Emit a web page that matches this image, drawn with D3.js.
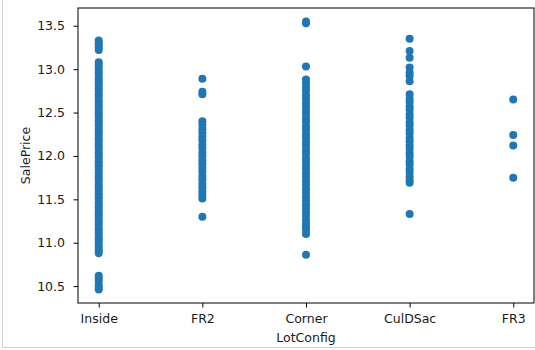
<!DOCTYPE html>
<html>
<head>
<meta charset="utf-8">
<script src="https://cdn.jsdelivr.net/npm/d3@7"></script>
<style>
  body { margin: 0; background: #fff; }
  svg { display: block; }
  text { font-family: "DejaVu Sans", sans-serif; fill: #1a1a1a; }
</style>
</head>
<body>
<div id="chart"></div>
<script>
const categories = ["Inside", "FR2", "Corner", "CulDSac", "FR3"];

const insideValues = [
  13.33, 13.30, 13.28, 13.25, 13.22,
  13.08, 13.05, 13.02, 12.98, 12.95, 12.91, 12.88, 12.85, 12.82, 12.78,
  12.75, 12.71, 12.68, 12.64, 12.61, 12.58, 12.55, 12.51, 12.48, 12.45,
  12.41, 12.38, 12.35, 12.31, 12.28, 12.25, 12.21, 12.18, 12.14, 12.11,
  12.08, 12.04, 12.01, 11.98, 11.94, 11.91, 11.88, 11.84, 11.81, 11.77,
  11.74, 11.71, 11.67, 11.64, 11.61, 11.57, 11.54, 11.51, 11.47, 11.44,
  11.41, 11.37, 11.34, 11.31, 11.27, 11.24, 11.21, 11.17, 11.14, 11.11,
  11.07, 11.04, 11.01, 10.97, 10.94, 10.91, 10.88,
  10.62, 10.59, 10.56, 10.51, 10.48, 10.46
];
const fr2Values = [
  12.89, 12.74, 12.71,
  12.40, 12.36, 12.31, 12.27, 12.22, 12.18, 12.13, 12.09, 12.04, 12.00,
  11.95, 11.91, 11.86, 11.82, 11.77, 11.73, 11.68, 11.64, 11.59, 11.55, 11.51,
  11.30
];
const cornerValues = [
  13.55, 13.53, 13.03,
  12.88, 12.84, 12.79, 12.75, 12.70, 12.66, 12.61, 12.57, 12.52, 12.48,
  12.43, 12.39, 12.34, 12.30, 12.25, 12.21, 12.16, 12.12, 12.07, 12.03,
  11.98, 11.94, 11.89, 11.85, 11.80, 11.76, 11.71, 11.67, 11.62, 11.58,
  11.53, 11.49, 11.44, 11.40, 11.35, 11.31, 11.26, 11.22, 11.18, 11.15,
  11.10, 10.86
];
const culdsacValues = [
  13.35, 13.21, 13.13, 13.02, 12.96, 12.92, 12.86,
  12.71, 12.66, 12.62, 12.57, 12.53, 12.48, 12.44, 12.39, 12.35, 12.30,
  12.26, 12.21, 12.17, 12.12, 12.08, 12.03, 11.99, 11.94, 11.90, 11.85,
  11.81, 11.76, 11.72, 11.69,
  11.33
];
const fr3Values = [12.65, 12.24, 12.12, 11.75];

const yTicks = [10.5, 11.0, 11.5, 12.0, 12.5, 13.0, 13.5];

const seriesValues = [insideValues, fr2Values, cornerValues, culdsacValues, fr3Values];

const width = 535, height = 350;
const margin = { top: 8, right: 1, bottom: 47, left: 78 };
const innerW = width - margin.left - margin.right;
const innerH = height - margin.top - margin.bottom;

const svg = d3.select("#chart").append("svg")
  .attr("width", width)
  .attr("height", height);

// faint image border (left and bottom)
svg.append("line").attr("x1", 2.5).attr("x2", 2.5).attr("y1", 0).attr("y2", 347.5)
  .attr("stroke", "#d0d0d0");
svg.append("line").attr("x1", 2.5).attr("x2", width).attr("y1", 347.5).attr("y2", 347.5)
  .attr("stroke", "#d0d0d0");

const g = svg.append("g")
  .attr("transform", "translate(" + margin.left + "," + margin.top + ")");

const points = [];
categories.forEach((c, i) => {
  seriesValues[i].forEach(v => points.push({ cat: i, value: v }));
});

const allVals = points.map(d => d.value);
const yMin = d3.min(allVals), yMax = d3.max(allVals);
const yPad = (yMax - yMin) * 0.05;

const x = d3.scaleLinear()
  .domain([-0.2, categories.length - 1 + 0.2])
  .range([0, innerW]);
const y = d3.scaleLinear()
  .domain([yMin - yPad, yMax + yPad])
  .range([innerH, 0]);

// points
g.append("g")
  .selectAll("circle")
  .data(points)
  .enter()
  .append("circle")
  .attr("cx", d => x(d.cat))
  .attr("cy", d => y(d.value))
  .attr("r", 4)
  .attr("fill", "#1f77b4");

// axes
const yAxis = d3.axisLeft(y)
  .tickValues(yTicks)
  .tickFormat(d3.format(".1f"))
  .tickSize(4.5)
  .tickPadding(8.5);
const xAxis = d3.axisBottom(x)
  .tickValues(d3.range(categories.length))
  .tickFormat(i => categories[i])
  .tickSize(4.5)
  .tickPadding(7);

const gy = g.append("g").call(yAxis);
const gx = g.append("g").attr("transform", "translate(0," + innerH + ")").call(xAxis);

[gx, gy].forEach(a => {
  a.select(".domain").remove();
  a.selectAll(".tick line").attr("stroke", "#000").attr("stroke-width", 1);
  a.selectAll(".tick text")
    .style("font-size", "12.5px")
    .attr("fill", "#1a1a1a");
});

// frame
g.append("rect")
  .attr("x", 0).attr("y", 0)
  .attr("width", innerW).attr("height", innerH)
  .attr("fill", "none")
  .attr("stroke", "#000")
  .attr("stroke-width", 1);

// axis labels
svg.append("text")
  .attr("x", margin.left + innerW / 2)
  .attr("y", 342)
  .attr("text-anchor", "middle")
  .style("font-size", "12.5px")
  .text("LotConfig");

svg.append("text")
  .attr("transform", "translate(29.5," + (margin.top + innerH / 2) + ") rotate(-90)")
  .attr("text-anchor", "middle")
  .style("font-size", "12.5px")
  .text("SalePrice");
</script>
</body>
</html>
